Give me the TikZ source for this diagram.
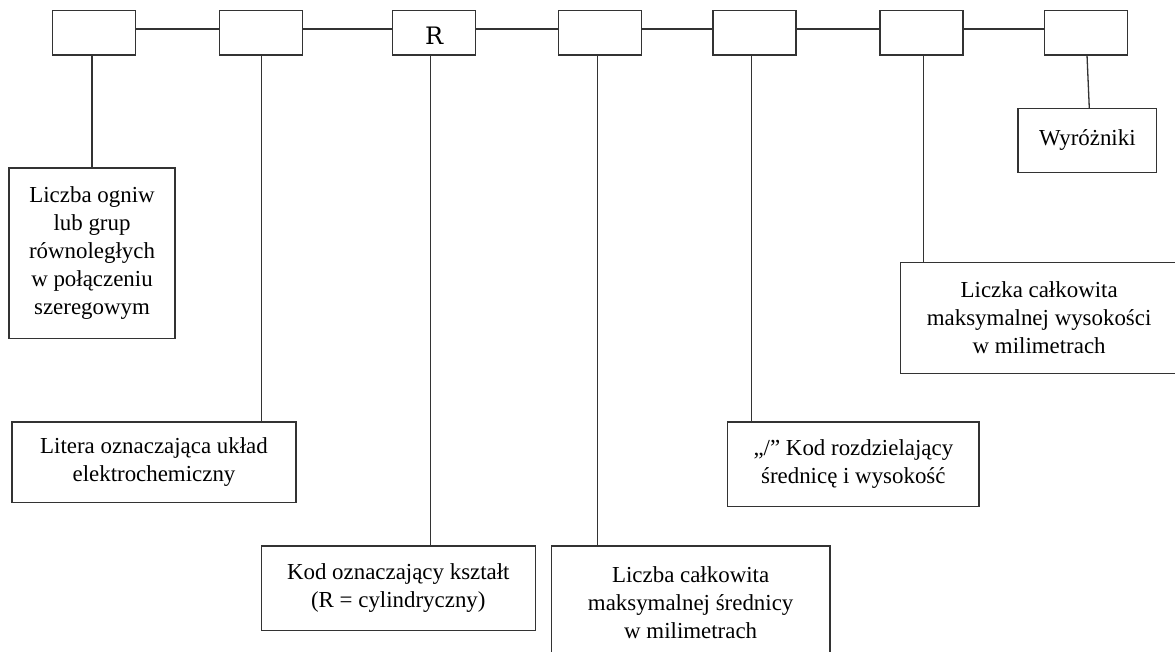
\documentclass[tikz,border=0pt]{standalone}
\usepackage{fontspec}
\setmainfont{Liberation Serif}
\newfontfamily\codefont{DejaVu Serif}
\begin{document}
\begin{tikzpicture}[x=1pt,y=-1pt,
  box/.style={draw=black!80, line width=1.3pt, inner sep=0pt, outer sep=0pt,
    align=center, font=\fontsize{22.9}{28}\selectfont},
  topbox/.style={box, minimum width=83pt, minimum height=44.7pt},
  link/.style={draw=black!80, line width=1.3pt}]
\useasboundingbox (0,0) rectangle (1175,651);
\clip (0,0) rectangle (1175,651);

% code field boxes along the top
\node[topbox] (t1) at (94.2,32.65) {};
\node[topbox] (t2) at (261.2,32.65) {};
\node[topbox, font=\codefont\fontsize{24}{28}\selectfont] (t3) at (434.2,32.65) {\smash{\raisebox{-12.3pt}{R}}};
\node[topbox] (t4) at (600.2,32.65) {};
\node[topbox] (t5) at (754.4,32.65) {};
\node[topbox] (t6) at (921.4,32.65) {};
\node[topbox] (t7) at (1086,32.65) {};

% description boxes
\node[box, minimum width=166pt, minimum height=170.7pt] (lic) at (92,253.35)
  {Liczba ogniw\\lub grup\\równoległych\\w połączeniu\\szeregowym};
\node[box, minimum width=284pt, minimum height=80.3pt] (lit) at (154,462.15)
  {Litera oznaczająca układ\\elektrochemiczny};
\node[box, minimum width=274pt, minimum height=84.5pt] (kod) at (398.3,588.25)
  {Kod oznaczający kształt\\(R = cylindryczny)};
\node[box, minimum width=278.7pt, minimum height=113pt] (lcs) at (690.65,602.5)
  {Liczba całkowita\\maksymalnej średnicy\\w milimetrach};
\node[box, minimum width=251.3pt, minimum height=84.3pt] (sep) at (853.35,464.15)
  {„/” Kod rozdzielający\\średnicę i wysokość};
\node[box, minimum width=277.7pt, minimum height=110.6pt] (lcw) at (1039.15,318)
  {Liczka całkowita\\maksymalnej wysokości\\w milimetrach};
\node[box, minimum width=138.7pt, minimum height=64pt] (wyr) at (1087.35,140.3)
  {Wyróżniki};

% horizontal chain between the top boxes
\foreach \a/\b in {t1/t2,t2/t3,t3/t4,t4/t5,t5/t6,t6/t7}
  \draw[link] ([yshift=3.65pt]\a.east) -- ([yshift=3.65pt]\b.west);

% leaders from each field down to its description
\draw[link] ([xshift=-2.2pt]t1.south) -- ([xshift=-2.2pt]t1.south |- lic.north);
\draw[link] ([xshift=0.3pt]t2.south) -- ([xshift=0.3pt]t2.south |- lit.north);
\draw[link] ([xshift=-3.5pt]t3.south) -- ([xshift=-3.5pt]t3.south |- kod.north);
\draw[link] ([xshift=-2.5pt]t4.south) -- ([xshift=-2.5pt]t4.south |- lcs.north);
\draw[link] ([xshift=-2.7pt]t5.south) -- ([xshift=-2.7pt]t5.south |- sep.north);
\draw[link] ([xshift=1.9pt]t6.south) -- ([xshift=1.9pt]t6.south |- lcw.north);
\draw[link] ([xshift=1pt]t7.south) -- ([xshift=3.3pt]t7.south |- wyr.north);
\end{tikzpicture}
\end{document}
